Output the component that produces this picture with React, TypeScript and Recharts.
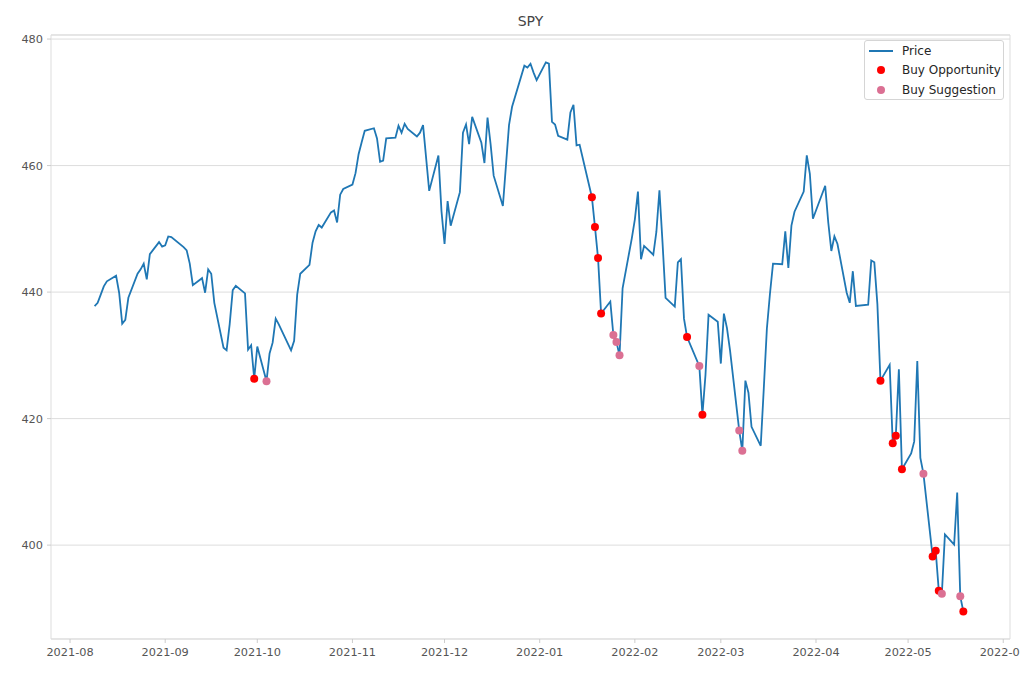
import { ComposedChart, Line, Scatter, XAxis, YAxis, CartesianGrid, ReferenceArea, Legend } from 'recharts'

const FONT = '"DejaVu Sans", Verdana, sans-serif'
const PRICE_COLOR = '#1f77b4'
const OPPORTUNITY_COLOR = '#ff0000'
const SUGGESTION_COLOR = '#db7093'

// SPY closes (adjusted), one per trading day
const tradingDays = [
  '2021-08-09', '2021-08-10', '2021-08-11', '2021-08-12', '2021-08-13', '2021-08-16', '2021-08-17', '2021-08-18', '2021-08-19', '2021-08-20',
  '2021-08-23', '2021-08-24', '2021-08-25', '2021-08-26', '2021-08-27', '2021-08-30', '2021-08-31',
  '2021-09-01', '2021-09-02', '2021-09-03', '2021-09-07', '2021-09-08', '2021-09-09', '2021-09-10', '2021-09-13', '2021-09-14', '2021-09-15',
  '2021-09-16', '2021-09-17', '2021-09-20', '2021-09-21', '2021-09-22', '2021-09-23', '2021-09-24', '2021-09-27', '2021-09-28', '2021-09-29', '2021-09-30',
  '2021-10-01', '2021-10-04', '2021-10-05', '2021-10-06', '2021-10-07', '2021-10-08', '2021-10-11', '2021-10-12', '2021-10-13', '2021-10-14',
  '2021-10-15', '2021-10-18', '2021-10-19', '2021-10-20', '2021-10-21', '2021-10-22', '2021-10-25', '2021-10-26', '2021-10-27', '2021-10-28', '2021-10-29',
  '2021-11-01', '2021-11-02', '2021-11-03', '2021-11-04', '2021-11-05', '2021-11-08', '2021-11-09', '2021-11-10', '2021-11-11', '2021-11-12',
  '2021-11-15', '2021-11-16', '2021-11-17', '2021-11-18', '2021-11-19', '2021-11-22', '2021-11-23', '2021-11-24', '2021-11-26', '2021-11-29', '2021-11-30',
  '2021-12-01', '2021-12-02', '2021-12-03', '2021-12-06', '2021-12-07', '2021-12-08', '2021-12-09', '2021-12-10', '2021-12-13', '2021-12-14', '2021-12-15',
  '2021-12-16', '2021-12-17', '2021-12-20', '2021-12-21', '2021-12-22', '2021-12-23', '2021-12-27', '2021-12-28', '2021-12-29', '2021-12-30', '2021-12-31',
  '2022-01-03', '2022-01-04', '2022-01-05', '2022-01-06', '2022-01-07', '2022-01-10', '2022-01-11', '2022-01-12', '2022-01-13', '2022-01-14',
  '2022-01-18', '2022-01-19', '2022-01-20', '2022-01-21', '2022-01-24', '2022-01-25', '2022-01-26', '2022-01-27', '2022-01-28', '2022-01-31',
  '2022-02-01', '2022-02-02', '2022-02-03', '2022-02-04', '2022-02-07', '2022-02-08', '2022-02-09', '2022-02-10', '2022-02-11', '2022-02-14',
  '2022-02-15', '2022-02-16', '2022-02-17', '2022-02-18', '2022-02-22', '2022-02-23', '2022-02-24', '2022-02-25', '2022-02-28',
  '2022-03-01', '2022-03-02', '2022-03-03', '2022-03-04', '2022-03-07', '2022-03-08', '2022-03-09', '2022-03-10', '2022-03-11', '2022-03-14', '2022-03-15',
  '2022-03-16', '2022-03-17', '2022-03-18', '2022-03-21', '2022-03-22', '2022-03-23', '2022-03-24', '2022-03-25', '2022-03-28', '2022-03-29', '2022-03-30', '2022-03-31',
  '2022-04-01', '2022-04-04', '2022-04-05', '2022-04-06', '2022-04-07', '2022-04-08', '2022-04-11', '2022-04-12', '2022-04-13', '2022-04-14',
  '2022-04-18', '2022-04-19', '2022-04-20', '2022-04-21', '2022-04-22', '2022-04-25', '2022-04-26', '2022-04-27', '2022-04-28', '2022-04-29',
  '2022-05-02', '2022-05-03', '2022-05-04', '2022-05-05', '2022-05-06', '2022-05-09', '2022-05-10', '2022-05-11', '2022-05-12', '2022-05-13',
  '2022-05-16', '2022-05-17', '2022-05-18', '2022-05-19', '2022-05-20',
]

const closePrices = [
  437.8, 438.3, 439.6, 440.9, 441.7, 442.6, 439.9, 435.0, 435.6, 439.1,
  442.9, 443.6, 444.5, 442.0, 446.0, 447.9, 447.2,
  447.4, 448.8, 448.7, 447.1, 446.6, 444.5, 441.1, 442.2, 439.9, 443.6,
  442.9, 438.3, 431.2, 430.8, 434.9, 440.3, 441.0, 439.8, 430.9, 431.6, 426.3,
  431.4, 425.9, 430.3, 432.0, 435.8, 434.9, 431.8, 430.8, 432.3, 439.6,
  442.9, 444.3, 447.8, 449.6, 450.6, 450.2, 452.6, 452.9, 451.0, 455.4, 456.3,
  457.0, 458.8, 461.8, 463.7, 465.5, 465.9, 464.3, 460.6, 460.8, 464.3,
  464.4, 466.3, 465.2, 466.6, 465.8, 464.6, 465.2, 466.4, 456.0, 461.6, 452.8,
  447.6, 454.4, 450.5, 455.8, 465.2, 466.5, 463.4, 467.7, 463.6, 460.4, 467.6,
  463.4, 458.4, 453.6, 460.0, 466.4, 469.3, 475.8, 475.5, 476.1, 474.7, 473.5,
  476.3, 476.1, 466.9, 466.5, 464.7, 464.1, 468.4, 469.6, 463.2, 463.3,
  455.0, 450.3, 445.4, 436.6, 438.5, 433.2, 432.1, 430.0, 440.6, 448.5,
  451.5, 455.9, 445.2, 447.3, 445.9, 449.5, 456.1, 447.9, 439.1, 437.7,
  444.7, 445.2, 435.8, 432.9, 428.3, 420.6, 426.9, 436.4, 435.3,
  428.7, 436.6, 434.3, 430.8, 418.1, 414.9, 426.0, 424.1, 418.7, 415.7, 424.8,
  434.2, 439.7, 444.5, 444.4, 449.6, 443.8, 450.5, 452.7, 455.9, 461.6, 458.7, 451.6,
  452.9, 456.8, 451.0, 446.5, 448.8, 447.6, 439.9, 438.3, 443.3, 437.8,
  438.0, 445.0, 444.7, 438.1, 426.0, 428.5, 416.1, 417.3, 427.8, 412.0,
  414.5, 416.4, 429.1, 413.8, 411.3, 398.2, 399.1, 392.8, 392.3, 401.7,
  400.1, 408.3, 391.9, 389.5, 389.6,
]

const buyOpportunityDays = [
  '2021-09-30', '2022-01-18', '2022-01-19', '2022-01-20', '2022-01-21', '2022-02-18', '2022-02-23',
  '2022-04-22', '2022-04-26', '2022-04-27', '2022-04-29', '2022-05-09', '2022-05-10', '2022-05-11', '2022-05-19',
]

const buySuggestionDays = [
  '2021-10-04', '2022-01-25', '2022-01-26', '2022-01-27', '2022-02-22', '2022-03-07', '2022-03-08',
  '2022-05-06', '2022-05-12', '2022-05-18',
]

const monthTicks = [
  '2021-08-01', '2021-09-01', '2021-10-01', '2021-11-01', '2021-12-01', '2022-01-01',
  '2022-02-01', '2022-03-01', '2022-04-01', '2022-05-01', '2022-06-01',
]

const priceTicks = [400, 420, 440, 460, 480]

const toTime = (d: string) => Date.parse(d + 'T00:00:00Z')

const priceRows = tradingDays.map((d, i) => ({ t: toTime(d), price: closePrices[i] }))
const pickRows = (days: string[]) => days.map((d) => priceRows[tradingDays.indexOf(d)])
const opportunityRows = pickRows(buyOpportunityDays)
const suggestionRows = pickRows(buySuggestionDays)

// matplotlib-style 5% margins
const tMin = priceRows[0].t
const tMax = priceRows[priceRows.length - 1].t
const tPad = (tMax - tMin) * 0.05
const xDomain: [number, number] = [tMin - tPad, tMax + tPad]
const pMin = Math.min(...closePrices)
const pMax = Math.max(...closePrices)
const pPad = (pMax - pMin) * 0.05
const yDomain: [number, number] = [pMin - pPad, pMax + pPad]

const fmtMonth = (t: number) => new Date(t).toISOString().slice(0, 7)

const dot = (color: string) => (p: any) => <circle cx={p.cx} cy={p.cy} r={4} fill={color} />

function LegendBox() {
  const row = { display: 'flex', alignItems: 'center', height: 19.5 }
  return (
    <div
      style={{
        border: '1px solid #d5d5d5',
        borderRadius: 3,
        background: 'rgba(255,255,255,0.85)',
        padding: '0 2px 0 3px',
        fontFamily: FONT,
        fontSize: 12,
        color: '#262626',
        boxSizing: 'border-box',
        width: 140,
        height: 60,
        whiteSpace: 'nowrap',
      }}
    >
      <div style={row}>
        <svg width={34} height={10}>
          <line x1={1} y1={5} x2={25} y2={5} stroke={PRICE_COLOR} strokeWidth={2} />
        </svg>
        Price
      </div>
      <div style={row}>
        <svg width={34} height={10}>
          <circle cx={13} cy={5} r={4} fill={OPPORTUNITY_COLOR} />
        </svg>
        Buy Opportunity
      </div>
      <div style={row}>
        <svg width={34} height={10}>
          <circle cx={13} cy={5} r={4} fill={SUGGESTION_COLOR} />
        </svg>
        Buy Suggestion
      </div>
    </div>
  )
}

export default function App() {
  return (
    <div style={{ position: 'absolute', left: 0, top: 0, width: 1020, height: 680, background: '#fff' }}>
      <div
        style={{
          position: 'absolute',
          left: 51,
          width: 959,
          top: 13,
          textAlign: 'center',
          fontFamily: FONT,
          fontSize: 14,
          color: '#444',
        }}
      >
        SPY
      </div>
      <ComposedChart
        width={1020}
        height={680}
        data={priceRows}
        margin={{ top: 35, right: 10, bottom: 11, left: 0 }}
        style={{ fontFamily: FONT }}
      >
        <CartesianGrid vertical={false} stroke="#dddddd" strokeWidth={1} />
        <XAxis
          dataKey="t"
          type="number"
          domain={xDomain}
          allowDataOverflow
          ticks={monthTicks.map(toTime)}
          tickFormatter={fmtMonth}
          interval={0}
          height={30}
          axisLine={false}
          tickLine={{ stroke: '#cccccc' }}
          tickSize={4}
          tickMargin={5}
          tick={{ fontSize: 11.3, fill: '#555' }}
        />
        <YAxis
          type="number"
          domain={yDomain}
          allowDataOverflow
          ticks={priceTicks}
          width={51}
          axisLine={false}
          tickLine={{ stroke: '#cccccc' }}
          tickSize={4}
          tickMargin={4}
          tick={{ fontSize: 11.3, fill: '#555' }}
        />
        <ReferenceArea
          x1={xDomain[0]}
          x2={xDomain[1]}
          y1={yDomain[0]}
          y2={yDomain[1]}
          fill="none"
          stroke="#dddddd"
          strokeWidth={1}
          ifOverflow="visible"
        />
        <Line
          type="linear"
          dataKey="price"
          name="Price"
          stroke={PRICE_COLOR}
          strokeWidth={1.8}
          dot={false}
          isAnimationActive={false}
        />
        <Scatter
          name="Buy Opportunity"
          data={opportunityRows}
          dataKey="price"
          fill={OPPORTUNITY_COLOR}
          shape={dot(OPPORTUNITY_COLOR)}
          isAnimationActive={false}
        />
        <Scatter
          name="Buy Suggestion"
          data={suggestionRows}
          dataKey="price"
          fill={SUGGESTION_COLOR}
          shape={dot(SUGGESTION_COLOR)}
          isAnimationActive={false}
        />
        <Legend
          layout="horizontal"
          verticalAlign="middle"
          align="center"
          content={() => <LegendBox />}
          wrapperStyle={{ left: 864, top: 40, width: 140, height: 60 }}
        />
      </ComposedChart>
    </div>
  )
}
